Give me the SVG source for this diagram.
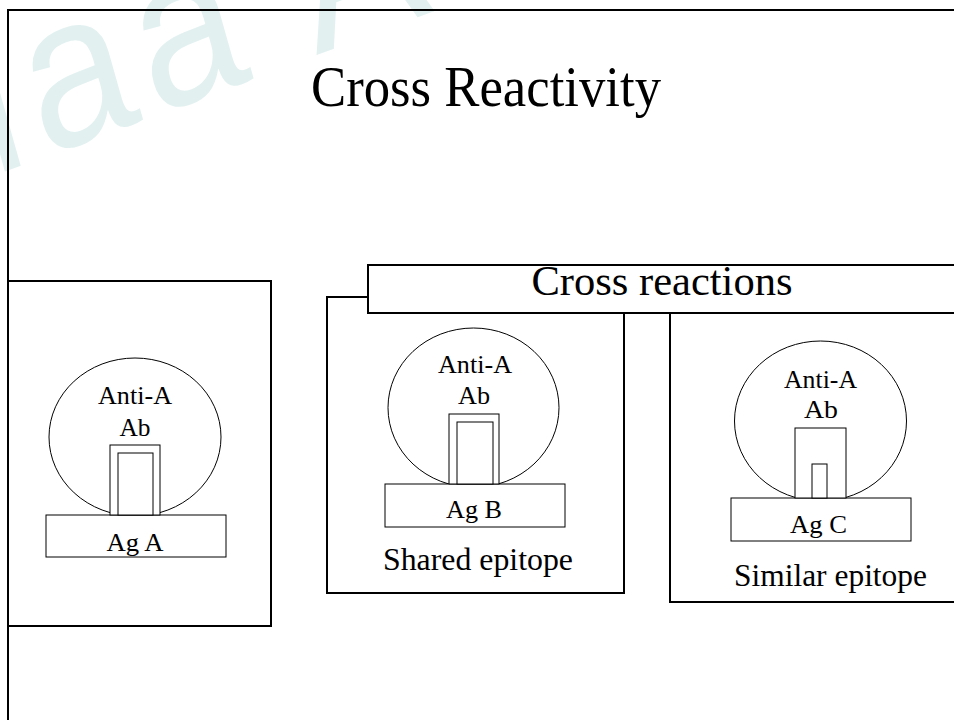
<svg xmlns="http://www.w3.org/2000/svg" width="954" height="720" viewBox="0 0 954 720">
  <style>
    .frame { fill: none; stroke: #000; stroke-width: 2; }
    .panel { fill: #fff; stroke: #000; stroke-width: 2; }
    .thin { fill: #fff; stroke: #000; stroke-width: 1; }
    .lbl { font-family: "Liberation Serif", "Times New Roman", serif; fill: #000; text-anchor: middle; }
    .s25 { font-size: 25px; }
    .s32 { font-size: 32px; }
    .mark { font-family: "Liberation Sans", Arial, sans-serif; font-size: 215px; fill: #e2f0f0; letter-spacing: 14px; }
  </style>

  <rect width="954" height="720" fill="#fff"/>

  <!-- faint watermark lettering -->
  <g id="watermark" transform="scale(0.87 1)">
    <text class="mark" transform="translate(-8 176) rotate(-18)">laa A</text>
  </g>

  <!-- slide frame -->
  <path id="frame" class="frame" d="M8,722 V10 H960"/>

  <!-- title -->
  <g id="title">
    <text class="lbl" x="486" y="106" font-size="56" textLength="350" lengthAdjust="spacingAndGlyphs">Cross Reactivity</text>
  </g>

  <!-- Ag A: the matching antigen -->
  <g id="panel-ag-a">
    <rect class="panel" x="8" y="281" width="263" height="345"/>
    <ellipse class="thin" cx="135" cy="437" rx="86" ry="79"/>
    <rect class="thin" x="46" y="515" width="180" height="42"/>
    <rect class="thin" x="110" y="445" width="50" height="70"/>
    <rect class="thin" x="118" y="453" width="35" height="62"/>
    <text class="lbl s25" x="135" y="404" textLength="74" lengthAdjust="spacingAndGlyphs">Anti-A</text>
    <text class="lbl s25" x="135" y="436" textLength="31" lengthAdjust="spacingAndGlyphs">Ab</text>
    <text class="lbl s25" x="135" y="551" textLength="57" lengthAdjust="spacingAndGlyphs">Ag A</text>
  </g>

  <!-- Ag B: shared epitope -->
  <g id="panel-ag-b">
    <rect class="panel" x="327" y="297" width="297" height="296"/>
    <ellipse class="thin" cx="473.5" cy="407.7" rx="85.5" ry="79.7"/>
    <rect class="thin" x="385" y="484" width="180" height="43"/>
    <rect class="thin" x="449" y="414" width="50" height="70"/>
    <rect class="thin" x="457" y="422" width="36" height="62"/>
    <text class="lbl s25" x="475" y="373" textLength="74" lengthAdjust="spacingAndGlyphs">Anti-A</text>
    <text class="lbl s25" x="474" y="404" textLength="32" lengthAdjust="spacingAndGlyphs">Ab</text>
    <text class="lbl s25" x="474" y="518" textLength="56" lengthAdjust="spacingAndGlyphs">Ag B</text>
    <text class="lbl s32" x="478" y="570" textLength="190" lengthAdjust="spacingAndGlyphs">Shared epitope</text>
  </g>

  <!-- Ag C: similar epitope -->
  <g id="panel-ag-c">
    <rect class="panel" x="670" y="305" width="300" height="297"/>
    <ellipse class="thin" cx="820.5" cy="421" rx="86" ry="80"/>
    <rect class="thin" x="731" y="498" width="180" height="43"/>
    <rect class="thin" x="795" y="428" width="51" height="70"/>
    <rect class="thin" x="812" y="464" width="15" height="34"/>
    <text class="lbl s25" x="820.5" y="388" textLength="73" lengthAdjust="spacingAndGlyphs">Anti-A</text>
    <text class="lbl s25" x="821" y="418" textLength="34" lengthAdjust="spacingAndGlyphs">Ab</text>
    <text class="lbl s25" x="818.5" y="533" textLength="57" lengthAdjust="spacingAndGlyphs">Ag C</text>
    <text class="lbl s32" x="830.5" y="586" textLength="193" lengthAdjust="spacingAndGlyphs">Similar epitope</text>
  </g>

  <!-- heading bar over the two cross-reaction panels -->
  <g id="header-cross-reactions">
    <rect class="panel" x="368" y="265" width="600" height="48"/>
    <text class="lbl" x="662" y="295" font-size="42" textLength="261" lengthAdjust="spacingAndGlyphs">Cross reactions</text>
  </g>

  <g id="connectors"/>
</svg>
